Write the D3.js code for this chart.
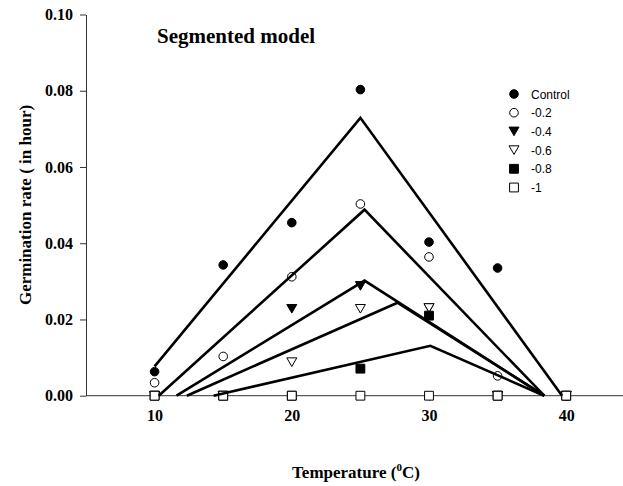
<!DOCTYPE html>
<html>
<head>
<meta charset="utf-8">
<script src="https://cdn.jsdelivr.net/npm/d3@7"></script>
<style>
  body { margin: 0; background: #fff; }
  svg { display: block; }
  .axis text { font-family: 'Liberation Serif', 'Times New Roman', serif; font-weight: bold; font-size: 16px; fill: #000; }
  .axis path, .axis line { stroke: #333; stroke-width: 1; }
</style>
</head>
<body>
<svg id="chart" width="623" height="486"></svg>
<script>
// germination rate data
const temps = [10, 15, 20, 25, 30, 35, 40];
const seriesNames = ['Control', '-0.2', '-0.4', '-0.6', '-0.8', '-1'];

const control = [0.0063, 0.0343, 0.0454, 0.0803, 0.0403, 0.0335, 0];
const psi02 = [0.0034, 0.0103, 0.0312, 0.0503, 0.0364, 0.0052, 0];
const psi04 = [0, 0, 0.0228, 0.0288, 0.0230, 0, 0];
const psi06 = [0, 0, 0.0088, 0.0228, 0.0230, 0, 0];
const psi08 = [0, 0, 0, 0.0071, 0.0210, 0, 0];
const psi10 = [0, 0, 0, 0, 0, 0, 0];

// segmented model fits: [temperature, rate]
const fitControl = [[10, 0.0077], [25, 0.0729], [39.7, 0]];
const fit02 = [[10.3, 0], [25.3, 0.0488], [38.4, 0]];
const fit04 = [[11.6, 0], [25.3, 0.0302], [38.4, 0]];
const fit06 = [[12.35, 0], [27.7, 0.0244], [38.4, 0]];
const fit08 = [[14.3, 0], [30.1, 0.0131], [38.4, 0]];

const xTicks = [10, 20, 30, 40];
const yTicks = [0, 0.02, 0.04, 0.06, 0.08, 0.10];

const allSeries = [control, psi02, psi04, psi06, psi08, psi10];
const fits = [fitControl, fit02, fit04, fit06, fit08];
const markers = [
  { type: d3.symbolCircle, fill: '#000' },
  { type: d3.symbolCircle, fill: '#fff' },
  { type: 'tri', fill: '#000' },
  { type: 'tri', fill: '#fff' },
  { type: d3.symbolSquare, fill: '#000' },
  { type: d3.symbolSquare, fill: '#fff' },
];

const svg = d3.select('#chart');

let x = d3.scaleLinear().domain([5, 45]).range([86, 634.8]);
let y = d3.scaleLinear().domain([0, 0.10]).range([395.7, 14.5]);

function markerPath(m) {
  if (m.type === 'tri') {
    // downward pointing triangle
    return 'M-5,-4.3L5,-4.3L0,4.3Z';
  }
  const size = m.type === d3.symbolCircle ? 58 : 78;
  return d3.symbol().type(m.type).size(size)();
}

// axes
svg.append('g')
  .attr('class', 'axis')
  .attr('transform', `translate(0,${y(0)})`)
  .call(d3.axisBottom(x).tickValues(xTicks).tickSize(5).tickPadding(9).tickSizeOuter(0))
  .call((g) => g.select('.domain').attr('d', `M${x(5)},0H623`));

svg.append('g')
  .attr('class', 'axis')
  .attr('transform', `translate(${x(5)},0)`)
  .call(d3.axisLeft(y).tickValues(yTicks).tickFormat(d3.format('.2f')).tickSize(6).tickPadding(7).tickSizeOuter(0));

// data points
allSeries.forEach((vals, i) => {
  svg.append('g')
    .selectAll('path')
    .data(vals)
    .join('path')
    .attr('transform', (d, j) => `translate(${x(temps[j])},${y(d)})`)
    .attr('d', markerPath(markers[i]))
    .attr('fill', markers[i].fill)
    .attr('stroke', '#000')
    .attr('stroke-width', 1);
});

// model lines
let line = d3.line().x((d) => x(d[0])).y((d) => y(d[1]));
fits.forEach((f) => {
  svg.append('path')
    .attr('d', line(f))
    .attr('fill', 'none')
    .attr('stroke', '#000')
    .attr('stroke-width', 2.6)
    .attr('stroke-linejoin', 'miter');
});

// legend
const legend = svg.append('g').attr('transform', 'translate(514,94)');
seriesNames.forEach((name, i) => {
  const row = legend.append('g').attr('transform', `translate(0,${i * 18.7})`);
  row.append('path')
    .attr('d', markerPath(markers[i]))
    .attr('fill', markers[i].fill)
    .attr('stroke', '#000');
  row.append('text')
    .attr('x', 17)
    .attr('y', 4.5)
    .style('font-family', "'Liberation Sans', Arial, sans-serif")
    .style('font-size', '12px')
    .text(name);
});

// title and axis labels
svg.append('text')
  .attr('x', 157)
  .attr('y', 43)
  .style('font-family', "'Liberation Serif', 'Times New Roman', serif")
  .style('font-weight', 'bold')
  .style('font-size', '21px')
  .text('Segmented model');

svg.append('text')
  .attr('transform', 'translate(31,205) rotate(-90)')
  .attr('text-anchor', 'middle')
  .style('font-family', "'Liberation Serif', 'Times New Roman', serif")
  .style('font-weight', 'bold')
  .style('font-size', '17px')
  .text('Germination rate ( in hour)');

const xl = svg.append('text')
  .attr('x', 356)
  .attr('y', 478)
  .attr('text-anchor', 'middle')
  .style('font-family', "'Liberation Serif', 'Times New Roman', serif")
  .style('font-weight', 'bold')
  .style('font-size', '17px');
xl.append('tspan').text('Temperature (');
xl.append('tspan').attr('dy', -7).style('font-size', '11px').text('0');
xl.append('tspan').attr('dy', 7).text('C)');
</script>
</body>
</html>
